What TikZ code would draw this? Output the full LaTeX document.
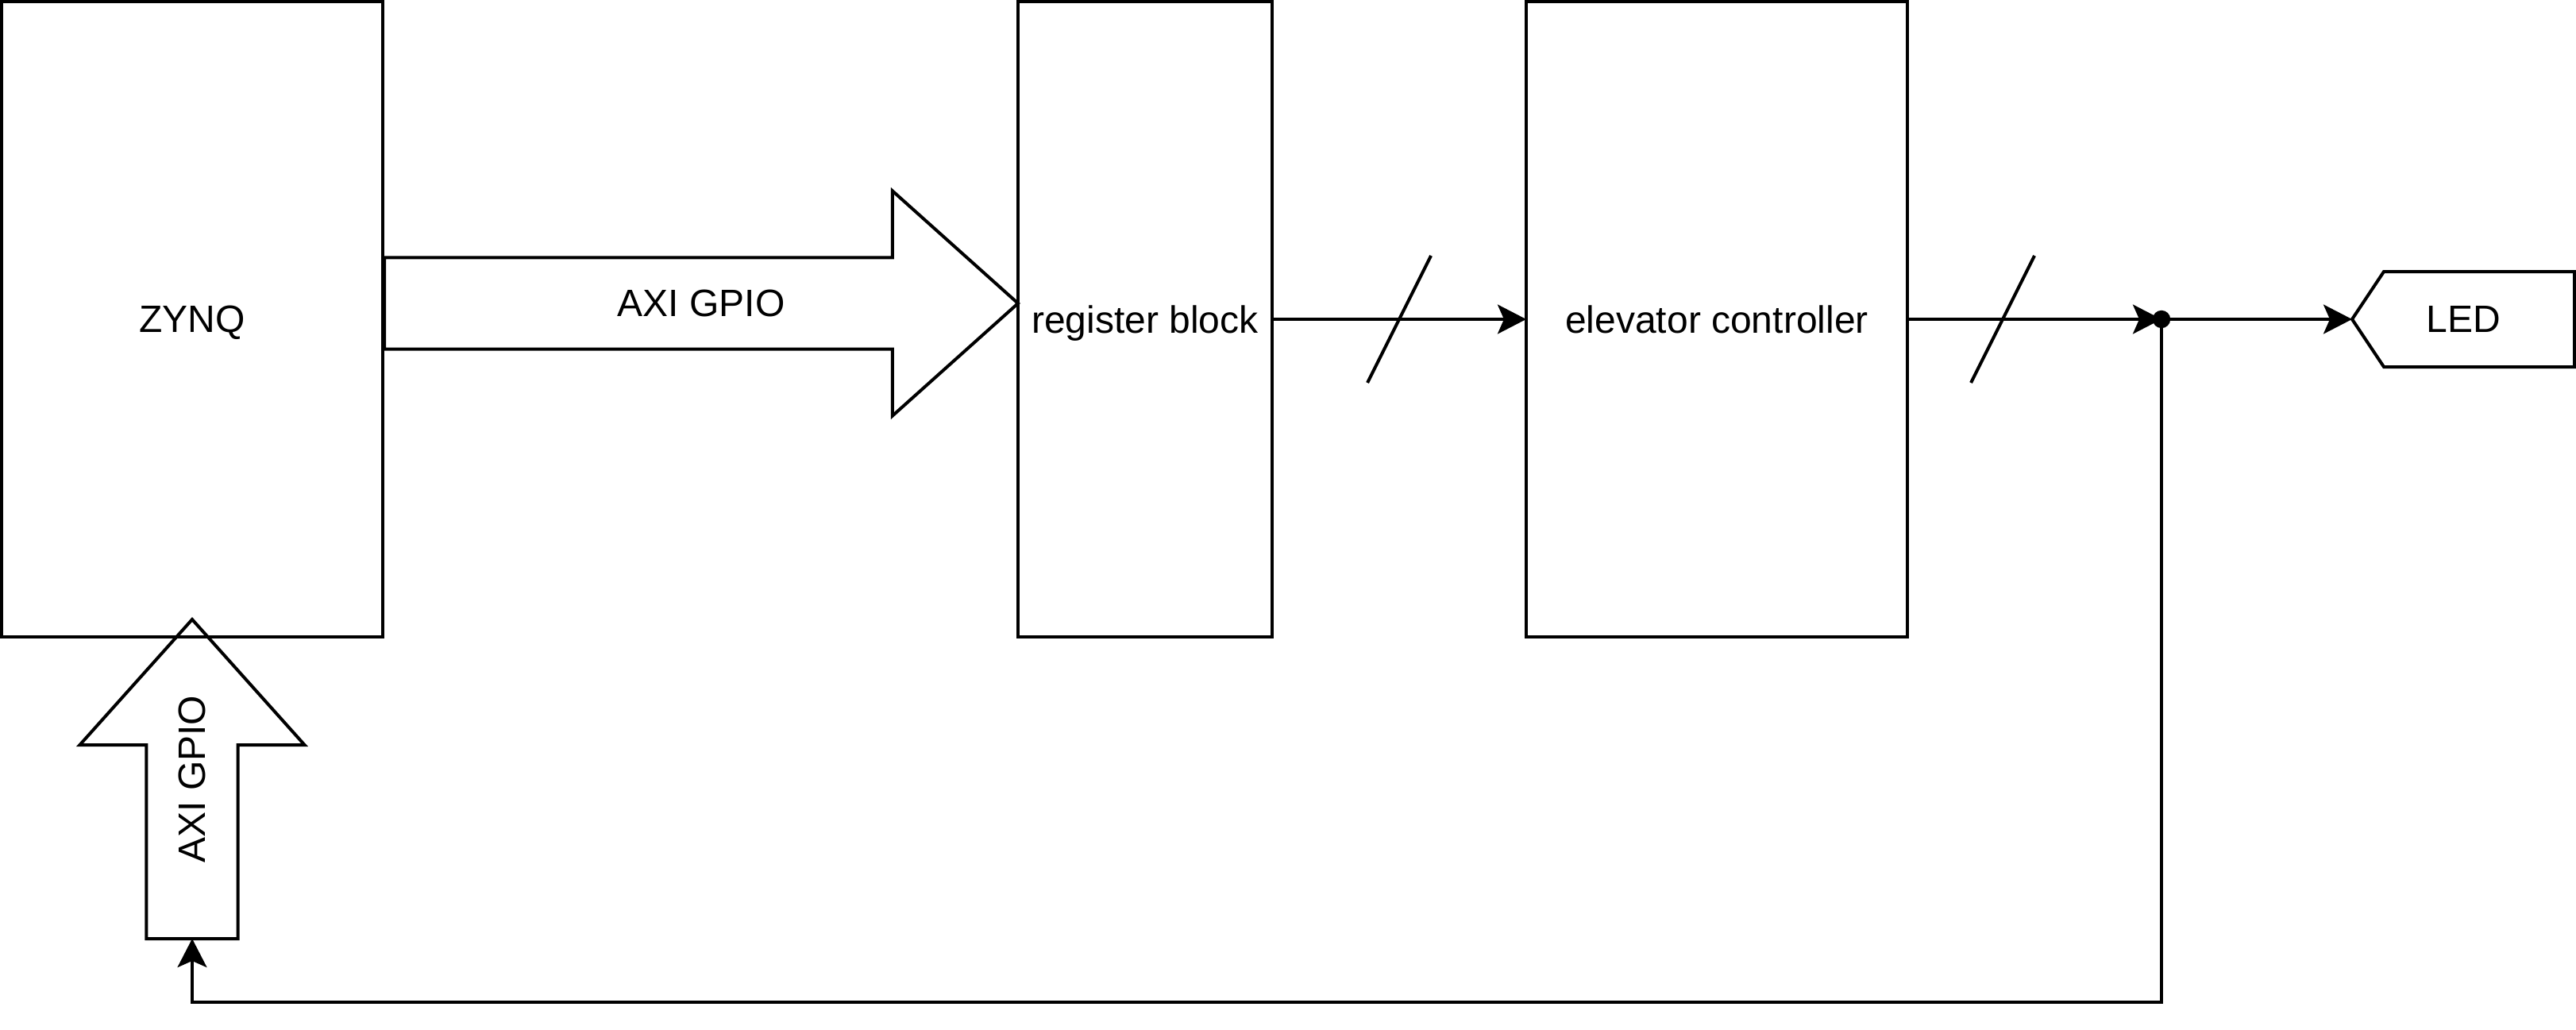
\documentclass[tikz,border=0pt]{standalone}
\usepackage{fontspec}
\setmainfont{Liberation Sans}
\usepackage{tikz}
\usetikzlibrary{arrows.meta}
\usetikzlibrary{positioning}
\usetikzlibrary{shapes.arrows}
\tikzstyle{arrow} = [line width=1pt,-{Stealth[length=9pt,width=9.2pt,inset=2pt]}]
\tikzstyle{block} = [draw, line width=1pt, outer sep=0pt, minimum height=200pt, text depth=0pt]
\tikzstyle{bus} = [draw, line width=1pt, outer sep=0pt, inner xsep=0pt, inner ysep=13.9pt, single arrow, single arrow head extend=21pt, single arrow tip angle=83.7, minimum width=70.5pt]
\tikzstyle{junction} = [circle, fill, inner sep=0pt, minimum size=5.6pt]

\begin{document}
\begin{tikzpicture}[x=1pt, y=-1pt, font=\fontsize{12}{14.4}\selectfont]
  	\useasboundingbox (0,0) rectangle (811,324);
  	\node[block, minimum width=120pt] (zynq) at (60.5,100.5) {ZYNQ};
  	\node[block, minimum width=80pt, right=200pt of zynq] (reg) {register block};
  	\node[block, minimum width=120pt, right=80pt of reg] (elev) {elevator controller};
  	\coordinate (jn) at (680.5,100.5);
  	\node[minimum width=70pt, minimum height=30pt, outer sep=0pt] (led) at (775.5,100.5) {LED};
  	\draw[line width=1pt] (led.west) -- ([xshift=10pt]led.north west) -- (led.north east) -- (led.south east) -- ([xshift=10pt]led.south west) -- cycle;
  	\node[bus, minimum height=199.5pt, anchor=tip] (gpioin) at ([yshift=5pt]reg.west) {};
  	\path (gpioin.tail) -- node {AXI GPIO} (gpioin.tip);
  	\node[bus, minimum height=100.5pt, rotate=90, anchor=tip] (gpioout) at ([yshift=5.5pt]zynq.south) {};
  	\path (gpioout.tail) -- node[rotate=90] {AXI GPIO} (gpioout.tip);
  	\coordinate (fb) at (60.5,315.5);
  	\draw[arrow] (reg) -- (elev);
  	\draw[arrow] (elev) -- (jn);
  	\draw[arrow] (jn) -- (led.west);
  	\draw[arrow] (jn) |- (fb) -- (gpioout.tail);
  	\node[junction] (dot) at (jn) {};
  	\draw[line width=1pt] (430.5,120.5) -- (450.5,80.5);
  	\draw[line width=1pt] (620.5,120.5) -- (640.5,80.5);
  \end{tikzpicture}
\end{document}
